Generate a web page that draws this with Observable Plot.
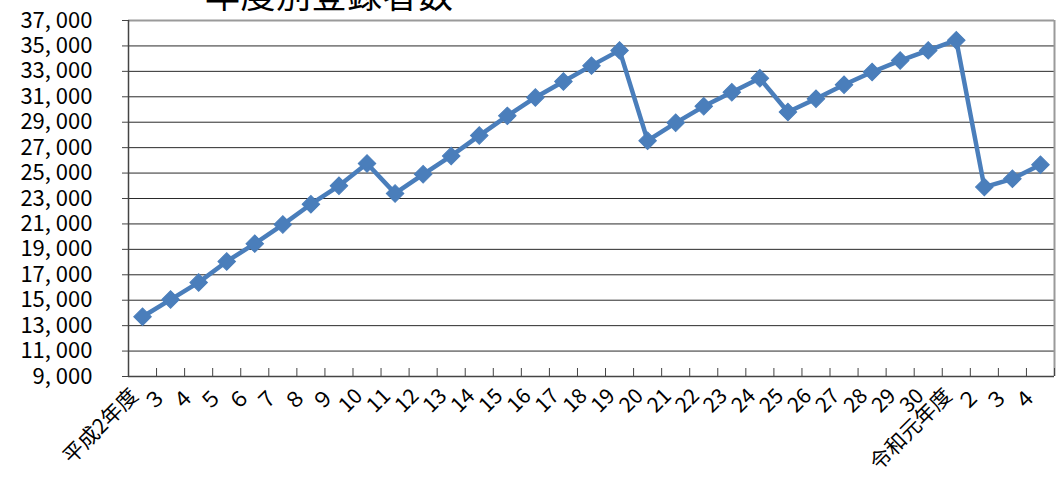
<!DOCTYPE html>
<html><head><meta charset="utf-8">
<script src="https://cdn.jsdelivr.net/npm/d3@7"></script>
<script src="https://cdn.jsdelivr.net/npm/@observablehq/plot@0.6"></script>
<style>
body{margin:0;background:#fff;}
#wrap{position:relative;width:1057px;height:477px;overflow:hidden;}
#title{position:absolute;left:205px;top:-27px;font-family:"Noto Sans CJK JP",sans-serif;font-size:35px;line-height:40px;color:#000;white-space:nowrap;letter-spacing:0.5px;}
</style></head>
<body><div id="wrap"><div id="title">年度別登録者数</div><div id="chart"></div></div>
<script>
const labels = ["平成2年度","３","４","５","６","７","８","９","10","11","12","13","14","15","16","17","18","19","20","21","22","23","24","25","26","27","28","29","30","令和元年度","２","３","４"];
const values = [13700,15050,16400,18050,19450,20950,22550,24000,25750,23400,24900,26350,27950,29500,30950,32200,33450,34650,27550,28950,30250,31350,32450,29800,30850,31950,32950,33850,34650,35450,23900,24550,25650];
const yTicks = d3.range(9000, 37001, 2000);

const data = values.map((v, i) => ({i, v}));
const fmt = d => d3.format(",")(d).replace(",", ", ");
const jp = "'Noto Sans CJK JP', sans-serif";

const chart = Plot.plot({
  width: 1057, height: 477,
  marginLeft: 128, marginRight: 3, marginTop: 20, marginBottom: 101,
  style: {fontFamily: jp, background: "#fff"},
  x: {type: "linear", domain: [-0.5, 32.5]},
  y: {domain: [9000, 37000]},
  marks: [
    Plot.gridY(yTicks.slice(1, -1), {stroke: "#2a2a2a", strokeOpacity: 1, strokeWidth: 1}),
    Plot.ruleY([37000], {stroke: "#9a9a9a", strokeWidth: 2}),
    Plot.ruleX([32.5], {stroke: "#9a9a9a", strokeWidth: 2}),
    Plot.ruleX([-0.5], {stroke: "#444", strokeWidth: 1.5}),
    Plot.ruleY([9000], {stroke: "#444", strokeWidth: 1.5}),
    Plot.axisY(yTicks, {tickFormat: fmt, tickSize: 6, tickPadding: 30, fontSize: 22, label: null, stroke: "#444", fill: "#000", style: {letterSpacing: "1.2px"}}),
    Plot.axisX(d3.range(34).map(k => k - 0.5), {tickFormat: () => "", tickSize: -8, label: null, stroke: "#444"}),
    Plot.axisX(d3.range(33), {tickFormat: i => labels[i], tickSize: 0, tickPadding: 14, tickRotate: -45, textAnchor: "end", fontSize: 21, dx: -8, dy: 2, label: null, fill: "#000", style: {letterSpacing: "1px"}}),
    Plot.line(data, {x: "i", y: "v", stroke: "#4a7ebb", strokeWidth: 4.5}),
    Plot.dot(data, {x: "i", y: "v", symbol: "square", r: 7, rotate: 45, fill: "#4a7ebb", stroke: "#4a7ebb", strokeWidth: 1})
  ]
});
document.getElementById("chart").appendChild(chart);
</script></body></html>
